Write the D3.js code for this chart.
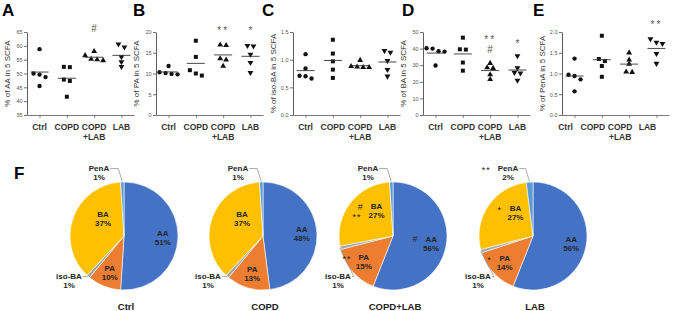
<!DOCTYPE html>
<html>
<head>
<meta charset="utf-8">
<script src="https://cdn.jsdelivr.net/npm/d3@7"></script>
<style>
  body { margin: 0; background: #fff; }
  svg { font-family: "Liberation Sans", Arial, sans-serif; display: block; }
</style>
</head>
<body>
<div id="chart"></div>
<script>
// ---- data ----
const groups = ["Ctrl", "COPD", "COPD+LAB", "LAB"];
const groupLines = [["Ctrl"], ["COPD"], ["COPD", "+LAB"], ["LAB"]];

// % of each acid in 5 SCFA, 5 animals per group (Ctrl, COPD, COPD+LAB, LAB)
const aaValues = [
  [58.8, 50.0, 49.6, 48.7, 45.5],
  [52.4, 52.3, 47.8, 47.3, 41.6],
  [58.0, 56.5, 55.2, 54.7, 55.0],
  [60.6, 59.5, 56.0, 54.2, 52.5]
];
const paValues = [
  [11.8, 10.1, 9.8, 9.9, 10.3],
  [17.9, 14.0, 10.8, 10.0, 9.5],
  [16.8, 16.9, 13.6, 13.3, 11.8],
  [16.7, 16.6, 14.6, 12.6, 10.2]
];
const isoBaValues = [
  [1.10, 0.84, 0.70, 0.66, 0.71],
  [1.36, 1.11, 0.97, 0.82, 0.67],
  [0.99, 0.87, 0.86, 0.86, 0.88],
  [1.16, 1.13, 0.98, 0.82, 0.70]
];
const baValues = [
  [40.2, 40.0, 38.4, 38.2, 29.8],
  [46.6, 39.6, 39.4, 31.6, 26.7],
  [31.2, 28.6, 28.2, 24.3, 21.5],
  [35.6, 28.3, 25.6, 25.2, 20.8]
];
const penAValues = [
  [1.36, 0.97, 0.94, 0.86, 0.57],
  [1.91, 1.35, 1.30, 1.18, 0.92],
  [1.50, 1.33, 1.23, 1.04, 1.03],
  [1.83, 1.75, 1.72, 1.48, 1.24]
];

const aaTicks = [35, 40, 45, 50, 55, 60, 65];
const paTicks = [0, 5, 10, 15, 20];
const isoBaTicks = [0, 0.5, 1.0, 1.5];
const baTicks = [0, 10, 20, 30, 40, 50];
const penATicks = [0, 0.5, 1.0, 1.5, 2.0];

// significance marks above the scatter groups (value = where the mark sits)
const scatterMarks = [
  { panel: "A", group: "COPD+LAB", mark: "#",  value: 66.2 },
  { panel: "B", group: "COPD+LAB", mark: "**", value: 20.8 },
  { panel: "B", group: "LAB",      mark: "*",  value: 20.8 },
  { panel: "D", group: "COPD+LAB", mark: "**", value: 46.6 },
  { panel: "D", group: "COPD+LAB", mark: "#",  value: 39.6 },
  { panel: "D", group: "LAB",      mark: "*",  value: 44.2 },
  { panel: "E", group: "LAB",      mark: "**", value: 2.22 }
];

// pie shares (%)
const acids = ["AA", "PA", "iso-BA", "BA", "PenA"];
const ctrlShares    = [51, 10, 1, 37, 1];
const copdShares    = [48, 13, 1, 37, 1];
const copdLabShares = [56, 15, 1, 27, 1];
const labShares     = [56, 14, 1, 27, 2];

const pieMarks = [
  { pie: "COPD+LAB", acid: "AA",   line: 0, mark: "#" },
  { pie: "COPD+LAB", acid: "BA",   line: 0, mark: "#" },
  { pie: "COPD+LAB", acid: "BA",   line: 1, mark: "**" },
  { pie: "COPD+LAB", acid: "PA",   line: 0, mark: "**" },
  { pie: "LAB",      acid: "BA",   line: 0, mark: "*" },
  { pie: "LAB",      acid: "PA",   line: 0, mark: "*" },
  { pie: "LAB",      acid: "PenA", line: 0, mark: "**" }
];

// ---- layout ----
const W = 676, H = 311;
const yTop = 32, yBot = 115;
const acidColor = d3.scaleOrdinal().domain(acids)
  .range(["#4472C4", "#ED7D31", "#A5A5A5", "#FFC000", "#5B9BD5"]);

const panels = [
  { letter: "A", title: "% of AA in 5 SCFA",     values: aaValues,    domain: [35, 65], ticks: aaTicks,    fmt: d3.format("d"),   left: 2,   axisX: 27,  labelShift: 0 },
  { letter: "B", title: "% of PA in 5 SCFA",     values: paValues,    domain: [0, 20],  ticks: paTicks,    fmt: d3.format("d"),   left: 133, axisX: 156, labelShift: 0 },
  { letter: "C", title: "% of iso-BA in 5 SCFA", values: isoBaValues, domain: [0, 1.5], ticks: isoBaTicks, fmt: d3.format(".1f"), left: 262, axisX: 293, labelShift: 0 },
  { letter: "D", title: "% of BA in 5 SCFA",     values: baValues,    domain: [0, 50],  ticks: baTicks,    fmt: d3.format("d"),   left: 402, axisX: 423, labelShift: 0 },
  { letter: "E", title: "% of PenA in 5 SCFA",   values: penAValues,  domain: [0, 2.0], ticks: penATicks,  fmt: d3.format(".1f"), left: 533, axisX: 562, labelShift: -9 }
];

const symbolTypes = [d3.symbolCircle, d3.symbolSquare, d3.symbolTriangle, d3.symbolTriangle];
const symbolSizes = [15, 16, 15, 15];

const svg = d3.select("#chart").append("svg")
  .attr("width", W).attr("height", H)
  .attr("viewBox", [0, 0, W, H]);

// baseline so a mark's visual centre lands on cy
function markBaseline(mark, cy, fs) {
  return cy + (mark.includes("*") ? 0.55 : 0.36) * fs;
}

// ---- scatter panels ----
panels.forEach(p => {
  const g = svg.append("g");
  const x = d3.scalePoint().domain(groups).range([p.axisX, p.axisX + 107]).padding(0.46);
  const y = d3.scaleLinear().domain(p.domain).range([yBot, yTop]);

  g.append("text")
    .attr("x", p.left).attr("y", 16)
    .style("font-size", "17px").style("font-weight", "bold")
    .text(p.letter);

  g.append("text")
    .attr("transform", `translate(${p.axisX - 17},${(yTop + yBot) / 2}) rotate(-90)`)
    .attr("text-anchor", "middle")
    .style("font-size", "8px").style("fill", "#333")
    .text(p.title);

  const ya = g.append("g")
    .attr("transform", `translate(${p.axisX},0)`)
    .call(d3.axisLeft(y).tickValues(p.ticks).tickSize(3).tickSizeOuter(0).tickPadding(1.5).tickFormat(p.fmt));
  ya.select(".domain").attr("stroke", "#333").attr("stroke-width", 0.8);
  ya.selectAll(".tick line").attr("stroke", "#333").attr("stroke-width", 0.7);
  ya.selectAll(".tick text").style("font-size", "5.5px").style("fill", "#555")
    .style("font-family", "'Liberation Sans', Arial, sans-serif");

  const xa = g.append("g")
    .attr("transform", `translate(0,${yBot})`)
    .call(d3.axisBottom(x).tickSize(3).tickSizeOuter(0).tickFormat(""));
  xa.select(".domain").attr("stroke", "#555").attr("stroke-width", 0.8);
  xa.selectAll(".tick line").attr("stroke", "#555").attr("stroke-width", 0.7);

  // category labels
  groups.forEach((grp, gi) => {
    const t = g.append("text")
      .attr("text-anchor", "middle")
      .style("font-size", "8.5px").style("font-weight", "bold").style("fill", "#333");
    groupLines[gi].forEach((ln, li) => {
      t.append("tspan")
        .attr("x", x(grp) + p.labelShift)
        .attr("y", 129.5 + li * 10)
        .text(ln);
    });
  });

  // points with simple horizontal spreading of near-equal values
  groups.forEach((grp, gi) => {
    const vals = p.values[gi];
    const pts = vals.map(v => ({ v, py: y(v) })).sort((a, b) => a.py - b.py);
    const clusters = [];
    let cur = [];
    pts.forEach(pt => {
      if (cur.length && pt.py - cur[cur.length - 1].py > 4) { clusters.push(cur); cur = []; }
      cur.push(pt);
    });
    if (cur.length) clusters.push(cur);
    clusters.forEach(c => c.forEach((pt, k) => { pt.dx = (k - (c.length - 1) / 2) * 6; }));

    const sym = d3.symbol().type(symbolTypes[gi]).size(symbolSizes[gi]);
    g.selectAll(null)
      .data(pts)
      .join("path")
      .attr("d", sym)
      .attr("transform", d => `translate(${x(grp) + d.dx},${d.py})` + (gi === 3 ? " rotate(180)" : ""))
      .attr("fill", "#111");

    const m = d3.mean(vals);
    g.append("line")
      .attr("x1", x(grp) - 9).attr("x2", x(grp) + 9)
      .attr("y1", y(m)).attr("y2", y(m))
      .attr("stroke", "#333").attr("stroke-width", 0.9);
  });

  // significance marks
  scatterMarks.filter(s => s.panel === p.letter).forEach(s => {
    g.append("text")
      .attr("x", x(s.group)).attr("y", markBaseline(s.mark, y(s.value), 10))
      .attr("text-anchor", "middle")
      .style("font-size", "10px").style("fill", "#555")
      .style("letter-spacing", s.mark === "**" ? "2px" : "0px")
      .text(s.mark);
  });
});

// ---- pies ----
svg.append("text")
  .attr("x", 14).attr("y", 179)
  .style("font-size", "17px").style("font-weight", "bold")
  .text("F");

const pies = [
  { name: "Ctrl",     shares: ctrlShares,    cx: 124 },
  { name: "COPD",     shares: copdShares,    cx: 263 },
  { name: "COPD+LAB", shares: copdLabShares, cx: 393 },
  { name: "LAB",      shares: labShares,     cx: 533 }
];
const cy = 236, R = 54;
const pieGen = d3.pie().sort(null).value(d => d.v);
const arcGen = d3.arc().innerRadius(0).outerRadius(R);
const polar = (a, r) => [Math.sin(a) * r, -Math.cos(a) * r];
const labelFs = 8;

pies.forEach(pd => {
  const g = svg.append("g").attr("transform", `translate(${pd.cx},${cy})`);
  const arcs = pieGen(acids.map((k, i) => ({ k, v: pd.shares[i] })));

  g.selectAll("path.slice")
    .data(arcs)
    .join("path")
    .attr("class", "slice")
    .attr("d", arcGen)
    .attr("fill", d => acidColor(d.data.k))
    .attr("stroke", "#fff").attr("stroke-width", 0.6);

  const labelPos = {};
  arcs.forEach(a => {
    const mid = (a.startAngle + a.endAngle) / 2;
    const k = a.data.k;
    let lx, ly;
    if (k === "AA" || k === "PA") {
      [lx, ly] = polar(mid, R * 0.72);
    } else if (k === "BA") {
      [lx, ly] = polar(mid, R * 0.55);
      lx += 7; ly -= 7;
    } else if (k === "PenA") {
      lx = -25; ly = -63;
    } else {
      lx = -55; ly = 45;
    }
    labelPos[k] = { lx, ly, mid };

    const t = g.append("text")
      .attr("text-anchor", "middle")
      .style("font-size", labelFs + "px").style("font-weight", "bold").style("fill", "#262626");
    const l1 = t.append("tspan").attr("x", lx).attr("y", ly - 4.5 + 0.36 * labelFs).text(k);
    const l2 = t.append("tspan").attr("x", lx).attr("y", ly + 4.5 + 0.36 * labelFs).text(pd.shares[acids.indexOf(k)] + "%");
    labelPos[k].w = [l1.node().getComputedTextLength(), l2.node().getComputedTextLength()];

    // leader lines for the thin slices
    if (k === "PenA") {
      const [ex, ey] = polar(mid, R + 0.5);
      const sx = lx + labelPos[k].w[0] / 2 + 1;
      const sy = ly - 4.5;
      g.append("polyline")
        .attr("points", [[sx, sy], [ex - 4, sy], [ex, ey]].join(" "))
        .attr("fill", "none").attr("stroke", "#8a8a8a").attr("stroke-width", 0.7);
    } else if (k === "iso-BA") {
      const [ex, ey] = polar(mid, R + 0.5);
      const sx = lx + labelPos[k].w[0] / 2 + 1;
      const sy = ly - 4.5;
      g.append("polyline")
        .attr("points", [[sx, sy], [sx + 2, sy], [ex, ey]].join(" "))
        .attr("fill", "none").attr("stroke", "#8a8a8a").attr("stroke-width", 0.7);
    }
  });

  pieMarks.filter(m => m.pie === pd.name).forEach(m => {
    const lp = labelPos[m.acid];
    const mw = m.mark === "**" ? 7 : 5;
    const mx = lp.lx - lp.w[m.line] / 2 - 8 - mw / 2;
    const lineCy = lp.ly + (m.line === 0 ? -4.5 : 4.5);
    g.append("text")
      .attr("x", mx).attr("y", markBaseline(m.mark, lineCy, 9))
      .attr("text-anchor", "middle")
      .style("font-size", "9px").style("fill", "#262626")
      .style("letter-spacing", m.mark === "**" ? "1px" : "0px")
      .text(m.mark);
  });

  svg.append("text")
    .attr("x", pd.cx + 2).attr("y", 310)
    .attr("text-anchor", "middle")
    .style("font-size", "9.5px").style("font-weight", "bold").style("fill", "#222")
    .text(pd.name);
});
</script>
</body>
</html>
